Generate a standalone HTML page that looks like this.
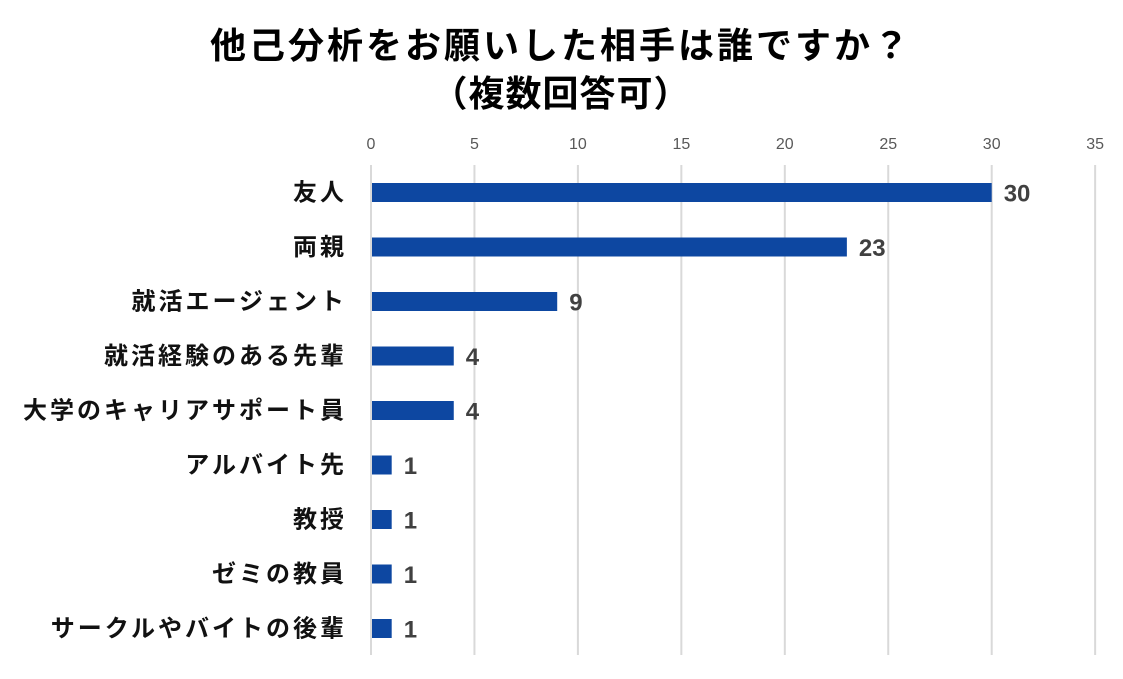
<!DOCTYPE html>
<html><head><meta charset="utf-8"><style>
body{margin:0;background:#fff;}
svg text{font-family:"Liberation Sans","Noto Sans CJK JP",sans-serif;}
</style></head><body>
<svg id="chart" width="1123" height="674" xmlns="http://www.w3.org/2000/svg">
<text x="561" y="58" text-anchor="middle" font-size="36" font-weight="bold" letter-spacing="3" fill="#000">他己分析をお願いした相手は誰ですか？</text>
<text x="561" y="106" text-anchor="middle" font-size="36" font-weight="bold" letter-spacing="1" fill="#000">（複数回答可）</text>
<g id="grid"></g><g id="bars"></g>
</svg>
<script>
const categories=["友人","両親","就活エージェント","就活経験のある先輩","大学のキャリアサポート員","アルバイト先","教授","ゼミの教員","サークルやバイトの後輩"];
const values=[30,23,9,4,4,1,1,1,1];
const ticks=[0,5,10,15,20,25,30,35];
const NS="http://www.w3.org/2000/svg";
const X0=371,PX_PER=20.69,GRID_TOP=165,GRID_BOTTOM=655,ROW_START=192.5,ROW_STEP=54.5,BAR_H=19;
const xs=v=>X0+v*PX_PER;
const gridG=document.getElementById('grid'),barsG=document.getElementById('bars');
function mk(tag,attrs,parent,txt){const e=document.createElementNS(NS,tag);for(const k in attrs)e.setAttribute(k,attrs[k]);if(txt!==undefined)e.textContent=txt;parent.appendChild(e);return e;}
ticks.forEach(t=>{
 const l=mk('line',{x1:xs(t),x2:xs(t),y1:GRID_TOP,y2:GRID_BOTTOM,stroke:'#d9d9d9','stroke-width':2},gridG);
 
 
 const tx=mk('text',{x:xs(t),y:149,'text-anchor':'middle','font-size':16,fill:'#595959'},gridG,String(t));
 
 
});
categories.forEach((c,i)=>{
 const cy=ROW_START+i*ROW_STEP;
 const lb=mk('text',{x:347,y:cy+8,'text-anchor':'end','font-size':24,'font-weight':'bold','letter-spacing':3,fill:'#111'},barsG,c);
 
 
 const r=mk('rect',{x:X0+1,y:cy-BAR_H/2,width:xs(values[i])-X0-1,height:BAR_H,fill:'#0d47a1'},barsG);
 
 
 const v=mk('text',{x:xs(values[i])+12,y:cy+9,'font-size':24,'font-weight':'bold',fill:'#404040'},barsG,String(values[i]));
 
 
});
</script>
</body></html>
